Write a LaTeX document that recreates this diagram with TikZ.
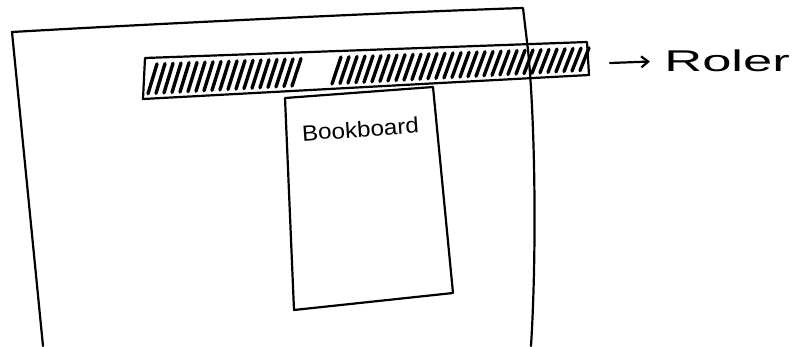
\documentclass[tikz,border=0pt]{standalone}
\usepackage{fontspec}
\setmainfont{Liberation Sans}
\usetikzlibrary{arrows.meta}
\begin{document}
\begin{tikzpicture}[x=1pt,y=-1pt,
  pen/.style={line width=2.2pt,line join=round,line cap=round},
  hatch/.style={line width=3.4pt,line cap=round},
  lbl/.style={inner sep=0pt,font=\fontsize{22}{22}\selectfont}]
\useasboundingbox (0,0) rectangle (804,346);
% outer sheet
\coordinate (s1) at (12,32);
\coordinate (s2) at (523,8);
\coordinate (s3) at (43,346);
\coordinate (s4) at (531,346);
\draw[pen] (s3) -- (s1) .. controls (150,24) and (400,12) .. (s2) -- (528,50) .. controls (535,120) and (537,250) .. (s4);
% ruler
\coordinate (r1) at (145,58);
\coordinate (r2) at (587,42);
\coordinate (r3) at (589,75);
\coordinate (r4) at (143,99);
\foreach \x in {148,156,...,580}{
  \pgfmathsetmacro{\yb}{99-(\x-143)*0.0535-5}
  \pgfmathsetmacro{\yt}{58-(\x-145)*0.037+6}
  \ifdim\x pt<297pt \draw[hatch] (\x,\yb) -- (\x+9,\yt);\fi
  \ifdim\x pt>324pt \draw[hatch] (\x,\yb) -- (\x+9,\yt);\fi
}
\draw[pen] (r1) -- (r2) -- (r3) -- (r4) -- cycle;
% bookboard
\coordinate (b1) at (285,98);
\coordinate (b2) at (433,87);
\coordinate (b3) at (453,293);
\coordinate (b4) at (294,310);
\fill[white] (b1) -- (b2) -- (b3) -- (b4) -- cycle;
\draw[pen] (b1) -- (b2) -- (b3) -- (b4) -- cycle;
\node[lbl,rotate=4,xscale=1.1,anchor=base] (book) at (361,137) {Bookboard};
% label
\node[lbl,font=\fontsize{30}{30}\selectfont,xscale=1.75,anchor=base west] (roler) at (664,71) {Roler};
\coordinate (a0) at (610,63);
\draw[pen,shorten >=14pt,-{Straight Barb[length=7pt,width=11pt]}] (a0) -- (roler.west |- 0,61);
\end{tikzpicture}
\end{document}
